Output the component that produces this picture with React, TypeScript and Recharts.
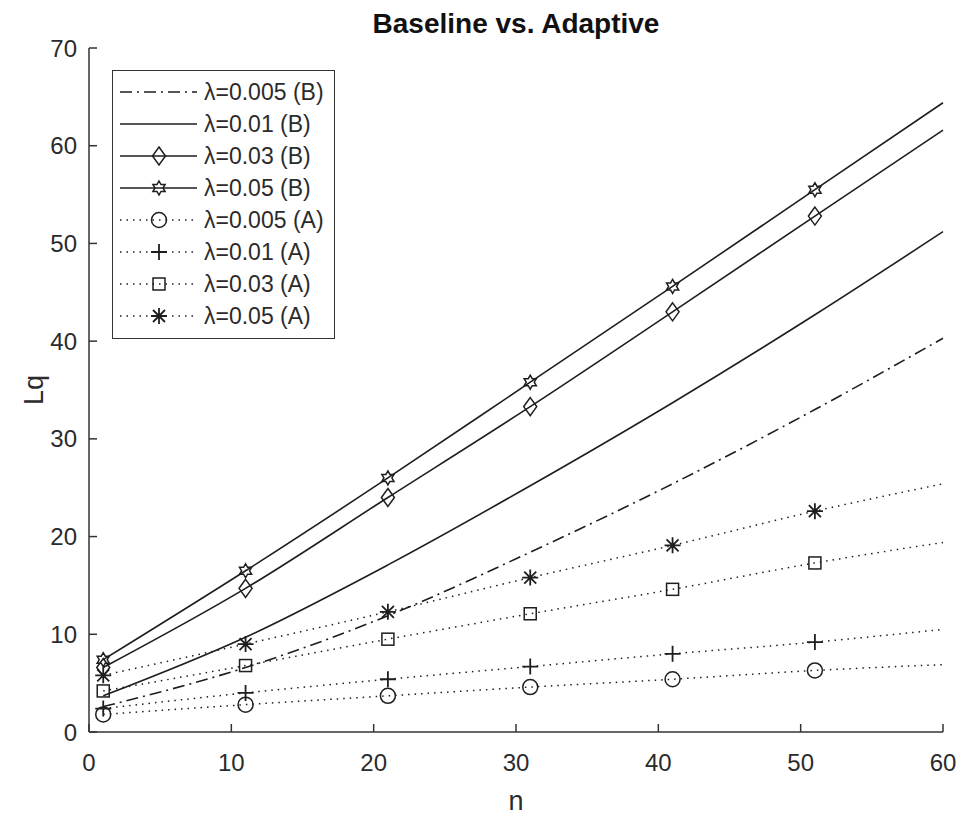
import React from 'react';
import { LineChart, Line, XAxis, YAxis, Legend } from 'recharts';

// ---- data ----
const nValues = [1, 11, 21, 31, 41, 51, 60];
const markerN = [1, 11, 21, 31, 41, 51];
const xTicks = [0, 10, 20, 30, 40, 50, 60];
const yTicks = [0, 10, 20, 30, 40, 50, 60, 70];

const b005 = [2.6, 6.6, 11.9, 18.4, 25.4, 33.0, 40.3];
const b01 = [3.7, 9.7, 17.1, 25.2, 33.7, 42.7, 51.2];
const b03 = [6.6, 14.7, 24.0, 33.3, 43.0, 52.8, 61.6];
const b05 = [7.4, 16.5, 26.0, 35.8, 45.6, 55.5, 64.4];
const a005 = [1.8, 2.8, 3.7, 4.6, 5.4, 6.3, 6.9];
const a01 = [2.4, 4.0, 5.4, 6.7, 8.0, 9.2, 10.5];
const a03 = [4.2, 6.8, 9.5, 12.1, 14.6, 17.3, 19.4];
const a05 = [5.8, 9.0, 12.3, 15.8, 19.1, 22.6, 25.4];

const seriesNames = [
  'λ=0.005 (B)', 'λ=0.01 (B)', 'λ=0.03 (B)', 'λ=0.05 (B)',
  'λ=0.005 (A)', 'λ=0.01 (A)', 'λ=0.03 (A)', 'λ=0.05 (A)',
];

const data = nValues.map((n, i) => ({
  n,
  b005: b005[i], b01: b01[i], b03: b03[i], b05: b05[i],
  a005: a005[i], a01: a01[i], a03: a03[i], a05: a05[i],
}));

// ---- styles ----
const FONT = '"Liberation Sans", Arial, Helvetica, sans-serif';
const INK = '#1e1e1e';
const TXT = '#2b2b2b';
const DOT = '1.5 5';
const DASHDOT = '12 5 2 5';

const series = [
  { key: 'b005', dash: DASHDOT, marker: 'none', w: 1.6 },
  { key: 'b01', dash: undefined, marker: 'none', w: 1.6 },
  { key: 'b03', dash: undefined, marker: 'diamond', w: 1.6 },
  { key: 'b05', dash: undefined, marker: 'hexagram', w: 1.6 },
  { key: 'a005', dash: DOT, marker: 'circle', w: 1.5 },
  { key: 'a01', dash: DOT, marker: 'plus', w: 1.5 },
  { key: 'a03', dash: DOT, marker: 'square', w: 1.5 },
  { key: 'a05', dash: DOT, marker: 'asterisk', w: 1.5 },
];

function Marker({ shape, cx, cy }: { shape: string; cx: number; cy: number }) {
  const s = { fill: 'none', stroke: INK, strokeWidth: 1.5 };
  switch (shape) {
    case 'diamond':
      return <polygon points={`${cx},${cy - 9} ${cx + 6.5},${cy} ${cx},${cy + 9} ${cx - 6.5},${cy}`} {...s} />;
    case 'hexagram': {
      const pts: string[] = [];
      for (let i = 0; i < 12; i++) {
        const r = i % 2 === 0 ? 7 : 4;
        const a = -Math.PI / 2 + (i * Math.PI) / 6;
        pts.push(`${cx + r * Math.cos(a)},${cy + r * Math.sin(a)}`);
      }
      return <polygon points={pts.join(' ')} {...s} />;
    }
    case 'circle':
      return <circle cx={cx} cy={cy} r={7.5} {...s} />;
    case 'plus':
      return <path d={`M${cx - 8},${cy}H${cx + 8}M${cx},${cy - 8}V${cy + 8}`} {...s} strokeWidth={1.8} />;
    case 'square':
      return <rect x={cx - 6} y={cy - 6} width={12} height={12} {...s} />;
    case 'asterisk': {
      const d = 6;
      return (
        <path
          d={`M${cx - 8},${cy}H${cx + 8}M${cx},${cy - 8}V${cy + 8}M${cx - d},${cy - d}L${cx + d},${cy + d}M${cx - d},${cy + d}L${cx + d},${cy - d}`}
          {...s}
          strokeWidth={1.8}
        />
      );
    }
    default:
      return null;
  }
}

function LegendBox() {
  return (
    <div
      style={{
        boxSizing: 'border-box',
        width: 223,
        border: '1.5px solid #333',
        background: '#fff',
        padding: '5px 6px 6px 7px',
        fontFamily: FONT,
        fontSize: 23,
        color: TXT,
      }}
    >
      {series.map((s, i) => (
        <div key={s.key} style={{ display: 'flex', alignItems: 'center', height: 32 }}>
          <svg width={77} height={32} style={{ display: 'block' }}>
            <line x1={0} x2={77} y1={16} y2={16} stroke={INK} strokeWidth={s.w} strokeDasharray={s.dash} />
            <Marker shape={s.marker} cx={39} cy={16} />
          </svg>
          <span style={{ marginLeft: 7, whiteSpace: 'nowrap', lineHeight: '32px' }}>{seriesNames[i]}</span>
        </div>
      ))}
    </div>
  );
}

export default function App() {
  return (
    <div style={{ width: 962, height: 817, background: '#fff' }}>
      <style>{`body{margin:0;background:#fff}`}</style>
      <LineChart
        width={962}
        height={817}
        data={data}
        margin={{ top: 48, right: 19, bottom: 25, left: 29 }}
      >
        <XAxis
          dataKey="n"
          type="number"
          domain={[0, 60]}
          ticks={xTicks}
          interval={0}
          height={60}
          tickSize={-8}
          tickMargin={30}
          axisLine={{ stroke: '#333', strokeWidth: 1.5 }}
          tickLine={{ stroke: '#333', strokeWidth: 1.5 }}
          tick={{ fontSize: 24, fill: TXT, fontFamily: FONT }}
        />
        <YAxis
          type="number"
          domain={[0, 70]}
          ticks={yTicks}
          interval={0}
          width={60}
          tickSize={-8}
          tickMargin={20}
          axisLine={{ stroke: '#333', strokeWidth: 1.5 }}
          tickLine={{ stroke: '#333', strokeWidth: 1.5 }}
          tick={{ fontSize: 24, fill: TXT, fontFamily: FONT }}
        />
        {series.map((s, i) => (
          <Line
            key={s.key}
            dataKey={s.key}
            name={seriesNames[i]}
            type="monotone"
            stroke={INK}
            strokeWidth={s.w}
            strokeDasharray={s.dash}
            isAnimationActive={false}
            activeDot={false}
            dot={(p: any) =>
              s.marker !== 'none' && markerN.includes(p.payload.n) ? (
                <Marker key={`${s.key}-${p.index}`} shape={s.marker} cx={p.cx} cy={p.cy} />
              ) : (
                <g key={`${s.key}-${p.index}`} />
              )
            }
          />
        ))}
        <Legend
          layout="vertical"
          align="center"
          verticalAlign="middle"
          wrapperStyle={{ left: 112, top: 70, width: 'auto' }}
          content={() => <LegendBox />}
        />
        <text x={516} y={33} textAnchor="middle" fontFamily={FONT} fontWeight="bold" fontSize={28} fill="#111">
          Baseline vs. Adaptive
        </text>
        <text x={516} y={810} textAnchor="middle" fontFamily={FONT} fontSize={27} fill={TXT}>
          n
        </text>
        <text x={43} y={390} transform="rotate(-90 43 390)" textAnchor="middle" fontFamily={FONT} fontSize={27} fill={TXT}>
          Lq
        </text>
      </LineChart>
    </div>
  );
}
